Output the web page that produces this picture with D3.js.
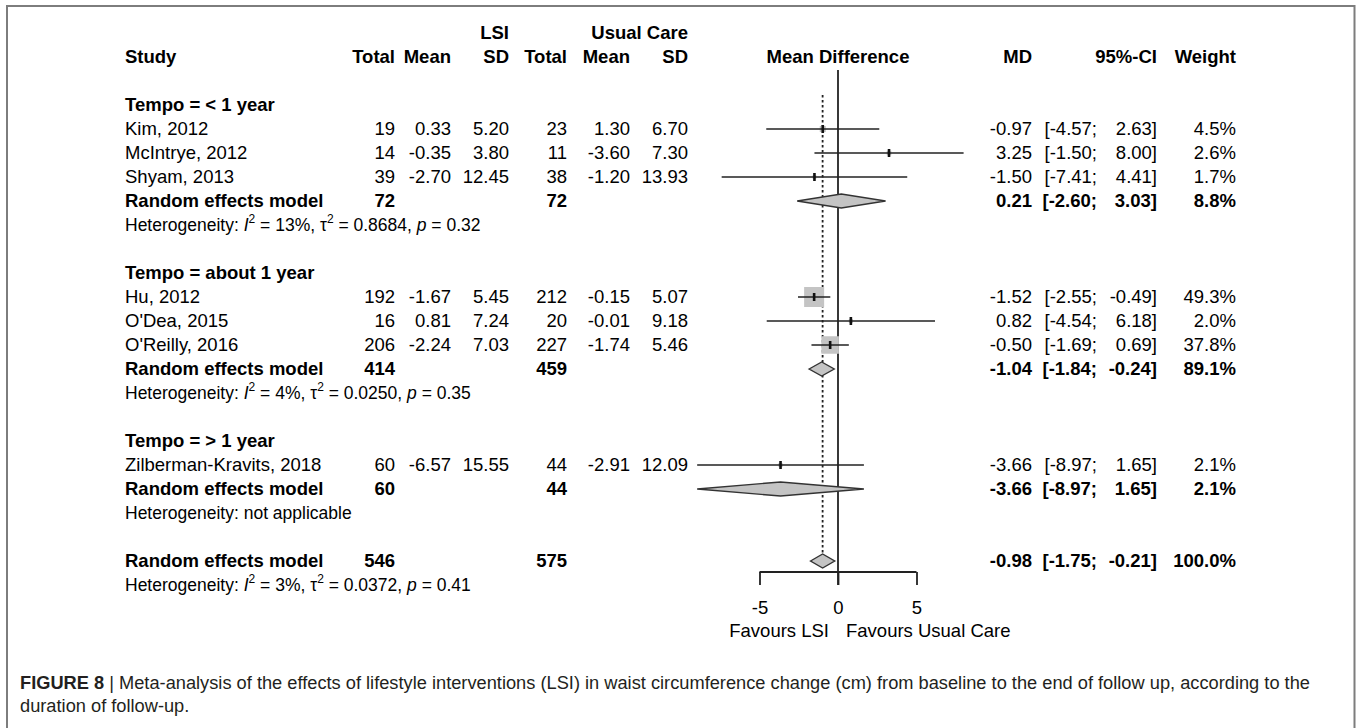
<!DOCTYPE html>
<html>
<head>
<meta charset="utf-8">
<script src="https://cdn.jsdelivr.net/npm/d3@7/dist/d3.min.js"></script>
<style>
  html, body { margin: 0; padding: 0; background: #fff; }
  svg { display: block; }
  text { font-family: "Liberation Sans", Arial, sans-serif; fill: #000; }
</style>
</head>
<body>
<svg id="chart" width="1357" height="728"></svg>
<script>
// ---- Study-level data ----
const subgroupLabels = ["Tempo = < 1 year", "Tempo = about 1 year", "Tempo = > 1 year"];
const studyNames = ["Kim, 2012", "McIntrye, 2012", "Shyam, 2013", "Hu, 2012", "O'Dea, 2015", "O'Reilly, 2016", "Zilberman-Kravits, 2018"];
const studyGroup = [0, 0, 0, 1, 1, 1, 2];
const lsiTotal = [19, 14, 39, 192, 16, 206, 60];
const lsiMean = [0.33, -0.35, -2.70, -1.67, 0.81, -2.24, -6.57];
const lsiSD = [5.20, 3.80, 12.45, 5.45, 7.24, 7.03, 15.55];
const ucTotal = [23, 11, 38, 212, 20, 227, 44];
const ucMean = [1.30, -3.60, -1.20, -0.15, -0.01, -1.74, -2.91];
const ucSD = [6.70, 7.30, 13.93, 5.07, 9.18, 5.46, 12.09];
const studyMD = [-0.97, 3.25, -1.50, -1.52, 0.82, -0.50, -3.66];
const studyLow = [-4.57, -1.50, -7.41, -2.55, -4.54, -1.69, -8.97];
const studyHigh = [2.63, 8.00, 4.41, -0.49, 6.18, 0.69, 1.65];
const studyWeight = [4.5, 2.6, 1.7, 49.3, 2.0, 37.8, 2.1];

// ---- Pooled (random effects) results: three subgroups, then overall ----
const pooledTotalLSI = [72, 414, 60, 546];
const pooledTotalUC = [72, 459, 44, 575];
const pooledMD = [0.21, -1.04, -3.66, -0.98];
const pooledLow = [-2.60, -1.84, -8.97, -1.75];
const pooledHigh = [3.03, -0.24, 1.65, -0.21];
const pooledWeight = [8.8, 89.1, 2.1, 100.0];
const hetI2 = ["13%", "4%", null, "3%"];
const hetTau2 = ["0.8684", "0.0250", null, "0.0372"];
const hetP = ["0.32", "0.35", null, "0.41"];

// ---- Axis ----
const axisTicks = [-5, 0, 5];
const axisLabelLeft = "Favours LSI";
const axisLabelRight = "Favours Usual Care";

const captionBold = "FIGURE 8";
const captionLine1 = "Meta-analysis of the effects of lifestyle interventions (LSI) in waist circumference change (cm) from baseline to the end of follow up, according to the";
const captionLine2 = "duration of follow-up.";

// ---- Layout ----
const svg = d3.select("#chart");
const FS = 18.5;           // table font size
const FS_HET = 17.5;       // heterogeneity line font size
const rowY = d3.scaleLinear().domain([0, 1]).range([57, 81]); // row index -> centre y
const x = d3.scaleLinear().domain([-5, 5]).range([759.5, 916.5]);

const col = {
  study: 125, lTot: 395, lMean: 451, lSD: 509, uTot: 567, uMean: 630, uSD: 688,
  md: 1032, ciLo: 1097, ciHi: 1157, w: 1236, plotCentre: x(0)
};

const f2 = d => d.toFixed(2);

// Build the row list
const rows = [];
rows.push({ type: "header" });
rows.push({ type: "blank" });
subgroupLabels.forEach((lab, g) => {
  rows.push({ type: "group", label: lab });
  studyNames.forEach((n, i) => { if (studyGroup[i] === g) rows.push({ type: "study", i }); });
  rows.push({ type: "pooled", k: g });
  rows.push({ type: "het", k: g });
  rows.push({ type: "blank" });
});
rows.push({ type: "pooled", k: 3 });
rows.push({ type: "het", k: 3 });

// Frame round the figure
svg.append("path")
  .attr("d", "M7,729 L7,6 L1354.5,6 L1354.5,729")
  .attr("fill", "none").attr("stroke", "#7d7d7d").attr("stroke-width", 2);

const g = svg.append("g");

function txt(xp, yc, s, anchor, opts = {}) {
  return g.append("text")
    .attr("x", xp).attr("y", yc).attr("dy", "0.35em")
    .attr("text-anchor", anchor)
    .attr("font-size", opts.size || FS)
    .attr("font-weight", opts.bold ? "bold" : "normal")
    .text(s);
}

// Column headers
const yH = rowY(0), yH0 = rowY(-1);
txt(col.lSD, yH0, "LSI", "end", { bold: true });
txt(col.uSD, yH0, "Usual Care", "end", { bold: true });
txt(col.study, yH, "Study", "start", { bold: true });
txt(col.lTot, yH, "Total", "end", { bold: true });
txt(col.lMean, yH, "Mean", "end", { bold: true });
txt(col.lSD, yH, "SD", "end", { bold: true });
txt(col.uTot, yH, "Total", "end", { bold: true });
txt(col.uMean, yH, "Mean", "end", { bold: true });
txt(col.uSD, yH, "SD", "end", { bold: true });
txt(col.plotCentre, yH, "Mean Difference", "middle", { bold: true });
txt(col.md, yH, "MD", "end", { bold: true });
txt(col.ciHi, yH, "95%-CI", "end", { bold: true });
txt(col.w, yH, "Weight", "end", { bold: true });

const overallRow = rows.findIndex(r => r.type === "pooled" && r.k === 3);

// Reference line at zero and dotted line at the overall estimate
g.append("line")
  .attr("x1", x(0)).attr("x2", x(0))
  .attr("y1", rowY(0) + 13).attr("y2", 585)
  .attr("stroke", "#222").attr("stroke-width", 1.8);
g.append("line")
  .attr("x1", x(pooledMD[3])).attr("x2", x(pooledMD[3]))
  .attr("y1", rowY(1) + 14).attr("y2", rowY(overallRow) - 7)
  .attr("stroke", "#222").attr("stroke-width", 1.8)
  .attr("stroke-dasharray", "2.5,2.5");

function ciText(yc, lo, hi, bold) {
  txt(col.ciLo, yc, "[" + f2(lo) + ";", "end", { bold });
  txt(col.ciHi, yc, f2(hi) + "]", "end", { bold });
}

const sqK = 2.85; // square side per sqrt(weight %)

rows.forEach((r, ri) => {
  const yc = rowY(ri);
  if (r.type === "group") {
    txt(col.study, yc, r.label, "start", { bold: true });
  } else if (r.type === "study") {
    const i = r.i;
    txt(col.study, yc, studyNames[i], "start");
    txt(col.lTot, yc, lsiTotal[i], "end");
    txt(col.lMean, yc, f2(lsiMean[i]), "end");
    txt(col.lSD, yc, f2(lsiSD[i]), "end");
    txt(col.uTot, yc, ucTotal[i], "end");
    txt(col.uMean, yc, f2(ucMean[i]), "end");
    txt(col.uSD, yc, f2(ucSD[i]), "end");
    txt(col.md, yc, f2(studyMD[i]), "end");
    ciText(yc, studyLow[i], studyHigh[i], false);
    txt(col.w, yc, studyWeight[i].toFixed(1) + "%", "end");
    // square sized by weight, CI line and estimate tick
    const s = sqK * Math.sqrt(studyWeight[i]);
    g.append("rect")
      .attr("x", x(studyMD[i]) - s / 2).attr("y", yc - s / 2)
      .attr("width", s).attr("height", s)
      .attr("fill", "#c4c4c4");
    g.append("line")
      .attr("x1", x(studyLow[i])).attr("x2", x(studyHigh[i]))
      .attr("y1", yc).attr("y2", yc)
      .attr("stroke", "#222").attr("stroke-width", 1.6);
    g.append("rect")
      .attr("x", x(studyMD[i]) - 1.3).attr("y", yc - 4)
      .attr("width", 2.6).attr("height", 8)
      .attr("fill", "#111");
  } else if (r.type === "pooled") {
    const k = r.k;
    txt(col.study, yc, "Random effects model", "start", { bold: true });
    txt(col.lTot, yc, pooledTotalLSI[k], "end", { bold: true });
    txt(col.uTot, yc, pooledTotalUC[k], "end", { bold: true });
    txt(col.md, yc, f2(pooledMD[k]), "end", { bold: true });
    ciText(yc, pooledLow[k], pooledHigh[k], true);
    txt(col.w, yc, pooledWeight[k].toFixed(1) + "%", "end", { bold: true });
    const h = 7;
    g.append("path")
      .attr("d", `M${x(pooledLow[k])},${yc} L${x(pooledMD[k])},${yc - h} L${x(pooledHigh[k])},${yc} L${x(pooledMD[k])},${yc + h} Z`)
      .attr("fill", "#c4c4c4").attr("stroke", "#333").attr("stroke-width", 1.4);
  } else if (r.type === "het") {
    const k = r.k;
    const t = g.append("text")
      .attr("x", col.study).attr("y", yc).attr("dy", "0.35em")
      .attr("font-size", FS_HET);
    if (hetI2[k] === null) {
      t.text("Heterogeneity: not applicable");
    } else {
      t.append("tspan").text("Heterogeneity: ");
      t.append("tspan").attr("font-style", "italic").text("I");
      t.append("tspan").attr("font-size", 12).attr("dy", -8).text("2");
      t.append("tspan").attr("dy", 8).text(" = " + hetI2[k] + ", ");
      t.append("tspan").text("\u03C4");
      t.append("tspan").attr("font-size", 12).attr("dy", -8).text("2");
      t.append("tspan").attr("dy", 8).text(" = " + hetTau2[k] + ", ");
      t.append("tspan").attr("font-style", "italic").text("p");
      t.append("tspan").text(" = " + hetP[k]);
    }
  }
});

// Bottom axis (ticks pointing down)
const axisY = 572;
const axis = d3.axisBottom(x).tickValues(axisTicks).tickSize(13).tickPadding(16).tickFormat(d3.format("d"));
const ag = svg.append("g").attr("transform", `translate(0,${axisY})`).call(axis);
ag.select(".domain").attr("d", `M${x(-5)},0H${x(5)}`).attr("stroke", "#222").attr("stroke-width", 1.8);
ag.selectAll(".tick line").attr("stroke", "#222").attr("stroke-width", 1.8);
ag.selectAll(".tick text")
  .attr("font-family", "Liberation Sans, Arial, sans-serif")
  .attr("font-size", FS).attr("fill", "#000");
ag.selectAll(".tick text").text(d => d < 0 ? "-" + Math.abs(d) : d);

txt(x(0) - 9, 631, axisLabelLeft, "end");
txt(x(0) + 8, 631, axisLabelRight, "start");

// Caption, set in a condensed face and fitted to the frame width
const capFont = "'Liberation Sans Narrow', 'DejaVu Sans Condensed', 'Arial Narrow', sans-serif";
const cap = svg.append("text")
  .attr("x", 20).attr("y", 689)
  .attr("font-family", capFont)
  .attr("font-size", 17.5)
  .style("fill", "#231f20");
cap.append("tspan").attr("font-weight", "bold").text(captionBold);
cap.append("tspan").text(" | " + captionLine1);
const natural1 = cap.node().getComputedTextLength();
const target1 = 1290;
const squeeze = target1 / natural1;
cap.attr("textLength", target1).attr("lengthAdjust", "spacingAndGlyphs");

const cap2 = svg.append("text")
  .attr("x", 20).attr("y", 712)
  .attr("font-family", capFont)
  .attr("font-size", 17.5)
  .style("fill", "#231f20")
  .text(captionLine2);
const natural2 = cap2.node().getComputedTextLength();
cap2.attr("textLength", natural2 * squeeze).attr("lengthAdjust", "spacingAndGlyphs");
</script>
</body>
</html>
